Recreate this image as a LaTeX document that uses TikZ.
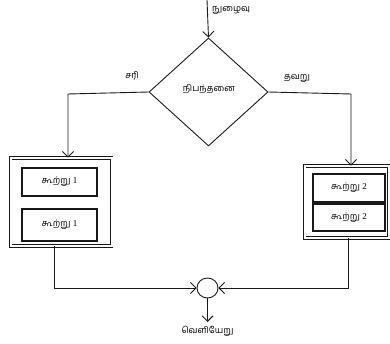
\documentclass[tikz,border=0pt]{standalone}
\usepackage{fontspec}
\newfontfamily\tamil[Script=Tamil]{Hind Madurai}
\newfontfamily\digitfont{Liberation Serif}
\usetikzlibrary{shapes.geometric,arrows.meta}
\begin{document}
\begin{tikzpicture}[x=1pt,y=-1pt,
  every node/.style={font=\tamil\fontsize{9}{10}\selectfont},
  ln/.style={draw=black!90,line width=0.9pt},
  arr/.style={ln,-{Straight Barb[length=5.5pt,width=11pt,line width=0.9pt]}},
  outerbox/.style={draw=black!90,double,double distance=2pt,line width=0.8pt,inner sep=0pt},
  innerbox/.style={draw=black!90,line width=1.4pt,inner sep=0pt,minimum width=#1},
  lbl/.style={inner sep=0pt}]
\useasboundingbox (0,0) rectangle (390,344);
% decision
\node[diamond,ln,minimum width=119pt,minimum height=108pt,inner sep=0pt] (dia) at (208.5,92) {};
\node[lbl] (diat) at (209,89) {நிபந்தனை};
\coordinate (start) at (207,0);
\node[lbl,anchor=west] (entry) at (212,10) {நுழைவு};
\draw[arr] (start) -- (dia.north);
% boxes
\node[outerbox,minimum width=101pt,minimum height=88pt] (lout) at (61,202) {};
\node[innerbox=75pt,minimum height=28pt] (l1) at (59.5,182) {கூற்று {\digitfont 1}};
\node[innerbox=75pt,minimum height=32pt] (l2) at (59.5,225) {கூற்று {\digitfont 1}};
\node[outerbox,minimum width=84pt,minimum height=72pt] (rout) at (346.5,202) {};
\node[innerbox=72pt,minimum height=28pt] (r1) at (349,188) {கூற்று {\digitfont 2}};
\node[innerbox=72pt,minimum height=27pt] (r2) at (349,217.5) {கூற்று {\digitfont 2}};
% branches
\coordinate (lturn) at (68,94);
\coordinate (rturn) at (351,94);
\draw[arr] (dia.west) -- (lturn) -- (lturn |- lout.north);
\draw[arr] (dia.east) -- (rturn) -- (rturn |- rout.north);
\node[lbl] (yes) at (132,76) {சரி};
\node[lbl] (no) at (297,78) {தவறு};
% merge
\node[ellipse,ln,minimum width=21pt,minimum height=20pt,inner sep=0pt] (join) at (207.5,288) {};
\coordinate (lbot) at (54,288);
\coordinate (rbot) at (348,288);
\draw[arr] (lbot |- lout.south) -- (lbot) -- (join.west);
\draw[arr] (rbot |- rout.south) -- (rbot) -- (join.east);
\coordinate (exitend) at (207.5,322);
\draw[arr] (join.south) -- (exitend);
\node[lbl] (exit) at (207.5,331) {வெளியேறு};
\end{tikzpicture}
\end{document}
